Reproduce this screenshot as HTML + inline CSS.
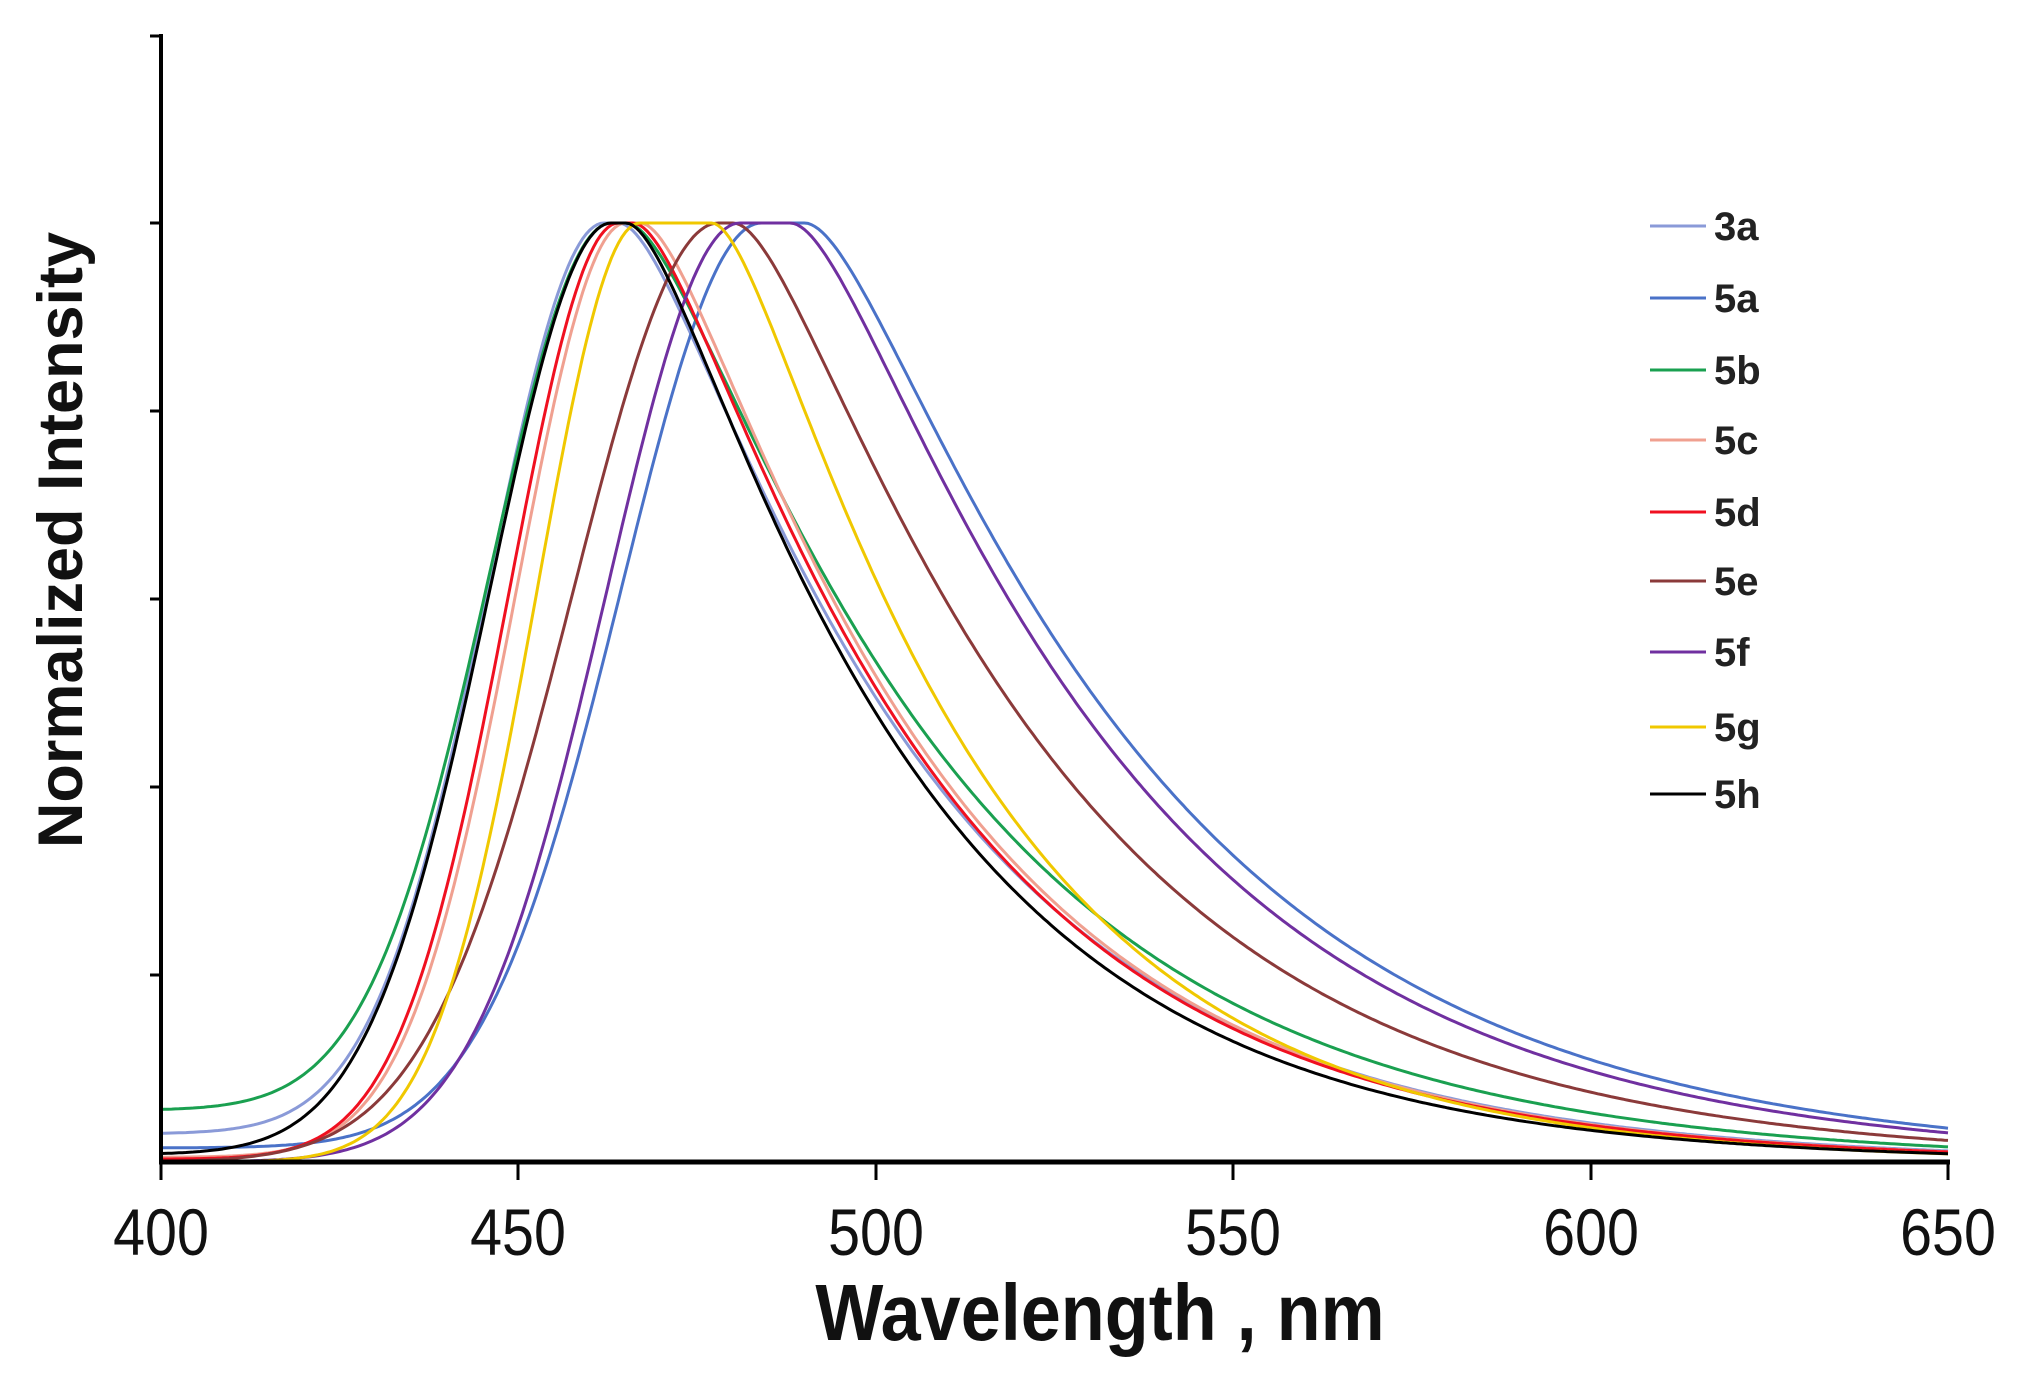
<!DOCTYPE html>
<html><head><meta charset="utf-8"><style>
html,body{margin:0;padding:0;background:#fff;}
svg{display:block;}
text{font-family:"Liberation Sans",Arial,sans-serif;}
</style></head><body>
<svg id="s" width="2017" height="1380" viewBox="0 0 2017 1380" xmlns="http://www.w3.org/2000/svg">
<rect width="2017" height="1380" fill="#fff"/>
<g id="curves" fill="none" stroke-width="3"></g>
<line x1="161" y1="34" x2="161" y2="1164" stroke="#000" stroke-width="4"/>
<line x1="159" y1="1162" x2="1950" y2="1162" stroke="#000" stroke-width="5"/>
<g stroke="#000" stroke-width="3">
<line x1="150" y1="36" x2="161" y2="36"/><line x1="150" y1="223" x2="161" y2="223"/>
<line x1="150" y1="411" x2="161" y2="411"/><line x1="150" y1="599" x2="161" y2="599"/>
<line x1="150" y1="787" x2="161" y2="787"/><line x1="150" y1="975" x2="161" y2="975"/>
<line x1="161" y1="1162" x2="161" y2="1180"/><line x1="518" y1="1162" x2="518" y2="1180"/>
<line x1="876" y1="1162" x2="876" y2="1180"/><line x1="1233" y1="1162" x2="1233" y2="1180"/>
<line x1="1591" y1="1162" x2="1591" y2="1180"/><line x1="1948" y1="1162" x2="1948" y2="1180"/>
</g>
<g font-size="66" text-anchor="middle" fill="#111">
<text x="161" y="1255" transform="translate(161 0) scale(0.87 1) translate(-161 0)">400</text>
<text x="518" y="1255" transform="translate(518 0) scale(0.87 1) translate(-518 0)">450</text>
<text x="876" y="1255" transform="translate(876 0) scale(0.87 1) translate(-876 0)">500</text>
<text x="1233" y="1255" transform="translate(1233 0) scale(0.87 1) translate(-1233 0)">550</text>
<text x="1591" y="1255" transform="translate(1591 0) scale(0.87 1) translate(-1591 0)">600</text>
<text x="1948" y="1255" transform="translate(1948 0) scale(0.87 1) translate(-1948 0)">650</text>
</g>
<text x="1100" y="1340" font-size="80" font-weight="bold" text-anchor="middle" fill="#111" transform="translate(1100 0) scale(0.9 1) translate(-1100 0)">Wavelength , nm</text>
<text x="0" y="0" font-size="63" font-weight="bold" text-anchor="middle" fill="#111" transform="translate(82 540) rotate(-90)">Normalized Intensity</text>
<g id="legend" font-size="40" font-weight="bold" fill="#222"></g>
</svg>
<script>
var X=function(nm){return 161+(nm-400)*(1787/250);};
var Y=function(v){return 1162-v*939;};
var C=[
["3a","#8a9ad8",462,464,19,31,0.03],
["5a","#4a72c8",484,490,23,35,0.015],
["5b","#1aa050",463,465,20,33,0.055],
["5c","#f0a090",465,467,18,30,0.005],
["5d","#f01020",464,466,18,30,0.003],
["5e","#8b3a3a",478,480,24,33,0.0],
["5f","#7030a0",481,488,22,34,0.0],
["5g","#f0c800",467,477,17,27,0.0],
["5h","#000000",463,465,20,29,0.008]
];
var LY=[226,298,370,440,512,581,652,727,794];
var g=document.getElementById('curves'),lg=document.getElementById('legend');
var ns="http://www.w3.org/2000/svg";
C.forEach(function(c,i){
  var pL=c[2],pR=c[3],L=c[4],R=c[5],b=c[6],d="";
  var k=0.026*30/R,cc=10*R/30;
  for(var nm=400;nm<=650;nm+=0.5){
    var f;
    if(nm<=pL){var dd=nm-pL;f=Math.exp(-0.693*(dd/L)*(dd/L));f=f+b*(1-f);}
    else if(nm<pR){f=1;}
    else{var dd=nm-pR;f=Math.exp(-k*dd*dd/(dd+cc));}
    d+=(nm==400?"M":"L")+X(nm).toFixed(1)+" "+Y(f).toFixed(1);
  }
  var e=document.createElementNS(ns,"path");e.setAttribute("d",d);e.setAttribute("stroke",c[1]);g.appendChild(e);
  var yy=LY[i];
  var l=document.createElementNS(ns,"line");l.setAttribute("x1",1650);l.setAttribute("x2",1706);l.setAttribute("y1",yy);l.setAttribute("y2",yy);l.setAttribute("stroke",c[1]);l.setAttribute("stroke-width",3);lg.appendChild(l);
  var t=document.createElementNS(ns,"text");t.setAttribute("x",1714);t.setAttribute("y",yy+14);t.textContent=c[0];lg.appendChild(t);
});
</script>
</body></html>
